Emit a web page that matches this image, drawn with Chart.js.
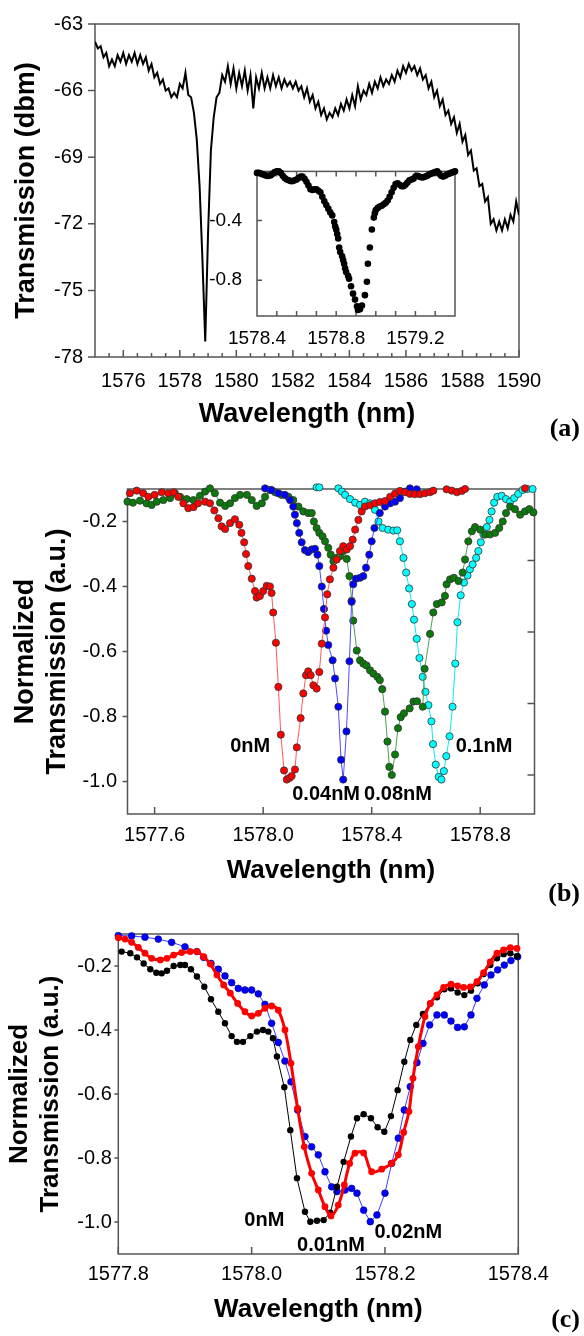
<!DOCTYPE html>
<html>
<head>
<meta charset="utf-8">
<title>Transmission spectra</title>
<script src="https://cdn.jsdelivr.net/npm/chart.js@4.4.1/dist/chart.umd.min.js"></script>
<style>
  html, body { margin: 0; padding: 0; background: #fff; }
  body { position: relative; width: 584px; height: 1336px; overflow: hidden; }
  canvas { position: absolute; }
  .tag { position: absolute; right: 4px; font: bold 26px 'Liberation Serif', 'Times New Roman', serif; line-height: 30px; color: #000; }
</style>
</head>
<body>
<canvas id="chartA" width="584" height="440" style="left:0;top:0"></canvas>
<canvas id="chartInset" width="280" height="215" style="left:190px;top:145px"></canvas>
<canvas id="chartB" width="584" height="470" style="left:0;top:440px"></canvas>
<canvas id="chartC" width="584" height="426" style="left:0;top:910px"></canvas>
<div class="tag" style="top:413px">(a)</div>
<div class="tag" style="top:878px">(b)</div>
<div class="tag" style="top:1304px">(c)</div>
<script>
// ---- panel (a): full spectrum ----
const aWl = [
  1575.0,1575.1,1575.2,1575.3,1575.4,1575.5,1575.6,1575.7,1575.8,1575.9,
  1576.0,1576.1,1576.2,1576.3,1576.4,1576.5,1576.6,1576.7,1576.8,1576.9,
  1577.0,1577.1,1577.2,1577.3,1577.4,1577.5,1577.6,1577.7,1577.8,1577.9,
  1578.0,1578.1,1578.2,1578.3,1578.4,1578.5,1578.6,1578.7,1578.8,1578.9,
  1579.0,1579.1,1579.2,1579.3,1579.4,1579.5,1579.6,1579.7,1579.8,1579.9,
  1580.0,1580.1,1580.2,1580.3,1580.4,1580.5,1580.6,1580.7,1580.8,1580.9,
  1581.0,1581.1,1581.2,1581.3,1581.4,1581.5,1581.6,1581.7,1581.8,1581.9,
  1582.0,1582.1,1582.2,1582.3,1582.4,1582.5,1582.6,1582.7,1582.8,1582.9,
  1583.0,1583.1,1583.2,1583.3,1583.4,1583.5,1583.6,1583.7,1583.8,1583.9,
  1584.0,1584.1,1584.2,1584.3,1584.4,1584.5,1584.6,1584.7,1584.8,1584.9,
  1585.0,1585.1,1585.2,1585.3,1585.4,1585.5,1585.6,1585.7,1585.8,1585.9,
  1586.0,1586.1,1586.2,1586.3,1586.4,1586.5,1586.6,1586.7,1586.8,1586.9,
  1587.0,1587.1,1587.2,1587.3,1587.4,1587.5,1587.6,1587.7,1587.8,1587.9,
  1588.0,1588.1,1588.2,1588.3,1588.4,1588.5,1588.6,1588.7,1588.8,1588.9,
  1589.0,1589.1,1589.2,1589.3,1589.4,1589.5,1589.6,1589.7,1589.8,1589.9,
  1590.0
];
const aT = [
  -63.8,-64.1,-64.0,-64.5,-64.3,-64.9,-64.6,-64.9,-64.4,-64.7,
  -64.3,-64.8,-64.4,-64.7,-64.3,-64.8,-64.4,-64.8,-64.5,-65.1,
  -64.8,-65.4,-65.2,-65.7,-65.5,-66.0,-65.9,-66.3,-66.1,-66.3,
  -65.7,-65.9,-65.2,-66.2,-66.3,-67.0,-68.2,-70.3,-73.6,-77.3,
  -72.4,-68.7,-67.2,-66.3,-66.1,-65.3,-65.6,-64.9,-65.7,-65.0,
  -65.9,-65.2,-65.8,-65.1,-66.0,-65.3,-66.8,-65.4,-65.9,-65.2,
  -65.9,-65.4,-65.9,-65.3,-65.8,-65.4,-65.9,-65.5,-65.8,-65.6,
  -65.9,-65.6,-66.0,-65.8,-66.3,-65.9,-66.5,-66.2,-66.8,-66.5,
  -67.1,-66.8,-67.3,-67.0,-67.2,-66.8,-67.1,-66.6,-66.9,-66.4,
  -66.8,-66.2,-66.7,-65.8,-66.4,-66.0,-66.2,-65.7,-66.1,-65.6,
  -65.9,-65.4,-65.8,-65.5,-65.7,-65.3,-65.6,-65.1,-65.4,-64.9,
  -65.2,-64.8,-65.1,-64.9,-65.3,-65.0,-65.5,-65.3,-65.9,-65.6,
  -66.3,-66.0,-66.7,-66.4,-67.1,-66.9,-67.5,-67.2,-67.9,-67.5,
  -68.3,-68.0,-68.9,-68.7,-69.6,-69.5,-70.3,-70.2,-71.0,-70.8,
  -72.0,-71.8,-72.3,-71.9,-72.3,-71.8,-72.2,-71.6,-71.9,-71.0,
  -71.6
];
const aTickX = [1576, 1578, 1580, 1582, 1584, 1586, 1588, 1590];
const aMinorX = [1575.5,1576,1576.5,1577,1577.5,1578,1578.5,1579,1579.5,1580,1580.5,1581,1581.5,1582,
  1582.5,1583,1583.5,1584,1584.5,1585,1585.5,1586,1586.5,1587,1587.5,1588,1588.5,1589,1589.5];
const aTickY = [-78, -75, -72, -69, -66, -63];

// ---- inset of (a) ----
const insetWl = [
  1578.40,1578.41,1578.42,1578.43,1578.44,1578.45,1578.46,1578.47,1578.48,1578.49,
  1578.50,1578.51,1578.52,1578.53,1578.54,1578.55,1578.56,1578.57,1578.58,1578.59,
  1578.60,1578.61,1578.62,1578.63,1578.64,1578.65,1578.66,1578.67,1578.68,1578.69,
  1578.70,1578.71,1578.72,1578.73,1578.74,1578.75,1578.76,1578.77,1578.78,
  1578.79,1578.795,1578.80,1578.805,1578.81,1578.815,1578.82,1578.83,1578.835,1578.84,
  1578.845,1578.85,1578.86,1578.865,1578.875,1578.885,1578.895,1578.905,1578.91,1578.915,
  1578.92,1578.93,1578.945,1578.955,1578.96,1578.97,1578.98,1578.99,1578.995,1579.00,
  1579.01,1579.02,1579.03,1579.04,1579.05,1579.06,1579.07,1579.08,1579.09,1579.10,
  1579.11,1579.12,1579.13,1579.14,1579.15,1579.16,1579.17,1579.18,1579.19,1579.20,
  1579.21,1579.22,1579.23,1579.24,1579.25,1579.26,1579.27,1579.28,1579.29,1579.30,
  1579.31,1579.32,1579.33,1579.34,1579.35,1579.36,1579.37,1579.38,1579.39,1579.40
];
const insetT = [
  -0.08,-0.08,-0.085,-0.09,-0.095,-0.10,-0.10,-0.095,-0.085,-0.075,
  -0.07,-0.07,-0.08,-0.10,-0.115,-0.125,-0.13,-0.135,-0.135,-0.13,
  -0.125,-0.115,-0.105,-0.105,-0.12,-0.14,-0.165,-0.19,-0.195,-0.19,
  -0.19,-0.20,-0.21,-0.24,-0.27,-0.295,-0.32,-0.345,-0.365,
  -0.41,-0.44,-0.46,-0.49,-0.52,-0.58,-0.61,-0.64,-0.665,-0.69,
  -0.72,-0.745,-0.77,-0.79,-0.84,-0.89,-0.93,-0.975,-1.0,-0.99,
  -0.995,-0.97,-0.90,-0.81,-0.69,-0.58,-0.46,-0.38,-0.35,-0.33,
  -0.315,-0.305,-0.30,-0.29,-0.28,-0.265,-0.24,-0.21,-0.18,-0.155,
  -0.15,-0.16,-0.17,-0.17,-0.16,-0.145,-0.13,-0.125,-0.12,-0.105,
  -0.10,-0.105,-0.11,-0.11,-0.105,-0.10,-0.09,-0.085,-0.08,-0.075,
  -0.07,-0.085,-0.10,-0.105,-0.10,-0.09,-0.085,-0.08,-0.075,-0.07
];
const insetTickX = [1578.4, 1578.8, 1579.2];
const insetMinorX = [1578.5,1578.6,1578.7,1578.8,1578.9,1579.0,1579.1,1579.2,1579.3];
const insetTickY = [-0.8, -0.4];

// ---- panel (b): 0 / 0.04 / 0.08 / 0.1 nM ----
const bRedWl = [
  1577.509,1577.534,1577.558,1577.577,1577.600,1577.626,1577.650,1577.670,1577.687,1577.706,
  1577.724,1577.743,1577.760,1577.786,1577.804,1577.820,1577.835,1577.847,1577.860,1577.878,
  1577.896,1577.912,1577.920,1577.930,1577.937,1577.945,1577.958,1577.970,1577.976,1577.988,
  1578.000,1578.013,1578.025,1578.031,1578.037,1578.047,1578.056,1578.065,1578.077,1578.087,
  1578.097,1578.105,1578.117,1578.124,1578.138,1578.148,1578.158,1578.166,1578.175,1578.185,
  1578.197,1578.207,1578.216,1578.228,1578.236,1578.246,1578.259,1578.271,1578.283,1578.295,
  1578.308,1578.320,1578.330,1578.339,1578.351,1578.363,1578.375,1578.394,1578.412,1578.430,
  1578.449,1578.468,1578.486,1578.504,1578.523,1578.541,1578.559,1578.578,1578.596,1578.615,
  1578.627,1578.650,1578.676,1578.695,1578.714,1578.732,1578.744,1578.850,1578.965
];
const bRedT = [
  -0.113,-0.105,-0.113,-0.124,-0.118,-0.110,-0.113,-0.110,-0.124,-0.144,
  -0.159,-0.156,-0.144,-0.139,-0.144,-0.166,-0.190,-0.215,-0.223,-0.205,
  -0.193,-0.210,-0.235,-0.264,-0.300,-0.337,-0.376,-0.414,-0.434,-0.429,
  -0.414,-0.398,-0.400,-0.420,-0.480,-0.573,-0.709,-0.856,-0.966,-0.994,
  -0.989,-0.983,-0.963,-0.895,-0.805,-0.729,-0.673,-0.661,-0.673,-0.704,
  -0.714,-0.663,-0.576,-0.495,-0.424,-0.378,-0.342,-0.317,-0.291,-0.276,
  -0.286,-0.276,-0.256,-0.225,-0.195,-0.169,-0.154,-0.150,-0.144,-0.140,
  -0.137,-0.124,-0.114,-0.106,-0.110,-0.115,-0.116,-0.116,-0.113,-0.110,
  -0.105,null,-0.101,-0.105,-0.110,-0.106,-0.100,null,-0.098
];
const bBlueWl = [
  1578.007,1578.031,1578.056,1578.080,1578.099,1578.111,1578.117,1578.124,1578.133,1578.142,
  1578.154,1578.166,1578.179,1578.191,1578.200,1578.207,1578.216,1578.224,1578.232,1578.240,
  1578.256,1578.265,1578.277,1578.287,1578.295,1578.307,1578.318,1578.326,1578.332,1578.342,
  1578.357,1578.369,1578.379,1578.391,1578.400,1578.410,1578.430,1578.449,1578.468,1578.486,
  1578.504,1578.523,1578.541,1578.566
];
const bBlueT = [
  -0.098,-0.103,-0.113,-0.118,-0.134,-0.154,-0.179,-0.205,-0.235,-0.264,
  -0.288,-0.294,-0.286,-0.284,-0.302,-0.337,-0.400,-0.469,-0.536,-0.580,
  -0.627,-0.683,-0.770,-0.933,-0.994,-0.846,-0.630,-0.447,-0.393,-0.376,
  -0.373,-0.368,-0.342,-0.302,-0.261,-0.220,-0.174,-0.154,-0.144,-0.139,
  -0.128,-0.108,-0.098,-0.101
];
const bGreenWl = [
  1577.500,1577.520,1577.546,1577.570,1577.589,1577.608,1577.632,1577.657,1577.675,1577.694,
  1577.718,1577.743,1577.767,1577.786,1577.804,1577.822,1577.841,1577.860,1577.878,1577.896,
  1577.915,1577.940,1577.958,1577.976,1577.995,1578.007,1578.025,1578.044,1578.068,1578.093,
  1578.111,1578.130,1578.148,1578.166,1578.179,1578.187,1578.197,1578.207,1578.219,1578.228,
  1578.240,1578.249,1578.259,1578.271,1578.283,1578.295,1578.308,1578.318,1578.326,1578.332,
  1578.345,1578.357,1578.369,1578.381,1578.394,1578.406,1578.421,1578.430,1578.439,1578.449,
  1578.458,1578.465,1578.474,1578.486,1578.497,1578.507,1578.519,1578.540,1578.554,1578.567,
  1578.588,1578.595,1578.615,1578.627,1578.640,1578.658,1578.670,1578.676,1578.689,1578.703,
  1578.720,1578.735,1578.744,1578.756,1578.769,1578.781,1578.800,1578.818,1578.836,1578.855,
  1578.870,1578.883,1578.895,1578.910,1578.928,1578.947,1578.965,1578.981,1578.996
];
const bGreenT = [
  -0.139,-0.142,-0.136,-0.144,-0.149,-0.139,-0.134,-0.128,-0.113,-0.124,
  -0.131,-0.134,-0.121,-0.108,-0.098,-0.113,-0.142,-0.152,-0.144,-0.128,
  -0.118,-0.118,-0.134,-0.152,-0.144,-0.124,-0.103,-0.110,-0.118,-0.124,
  -0.134,-0.154,-0.169,-0.174,-0.174,-0.200,-0.220,-0.235,-0.246,-0.261,
  -0.281,-0.302,-0.322,-0.312,-0.307,-0.291,-0.315,-0.368,-0.444,-0.505,
  -0.597,-0.627,-0.637,-0.643,-0.658,-0.668,-0.678,-0.688,-0.716,-0.785,
  -0.877,-0.955,-0.980,-0.917,-0.836,-0.802,-0.790,-0.775,-0.754,-0.753,
  -0.770,-0.653,-0.546,-0.480,-0.454,-0.449,-0.429,-0.393,-0.378,-0.373,
  -0.383,-0.357,-0.317,-0.261,-0.230,-0.217,-0.225,-0.240,-0.240,-0.235,
  -0.220,-0.200,-0.174,-0.154,-0.162,-0.179,-0.169,-0.162,-0.172
];
const bCyanWl = [
  1578.197,1578.207,1578.240,1578.277,1578.290,1578.302,1578.320,1578.339,1578.357,1578.375,
  1578.394,1578.412,1578.425,1578.440,1578.461,1578.480,1578.494,1578.504,1578.517,1578.527,
  1578.538,1578.548,1578.556,1578.566,1578.576,1578.588,1578.598,1578.609,1578.620,1578.626,
  1578.636,1578.647,1578.657,1578.666,1578.675,1578.687,1578.698,1578.708,1578.716,1578.728,
  1578.740,1578.753,1578.762,1578.772,1578.785,1578.793,1578.802,1578.812,1578.824,1578.834,
  1578.842,1578.851,1578.863,1578.879,1578.895,1578.910,1578.925,1578.940,1578.956,1578.974,
  1578.993
];
const bCyanT = [
  -0.095,-0.095,null,-0.098,-0.108,-0.118,-0.131,-0.142,-0.149,-0.139,
  -0.144,-0.164,-0.200,-0.220,-0.225,-0.228,-0.227,-0.261,-0.312,-0.357,
  -0.406,-0.454,-0.502,-0.561,-0.620,-0.678,-0.724,-0.765,-0.815,-0.885,
  -0.948,-0.986,-0.994,-0.968,-0.922,-0.861,-0.770,-0.637,-0.510,-0.427,
  -0.388,-0.366,-0.347,-0.332,-0.312,-0.291,-0.264,-0.240,-0.217,-0.195,
  -0.169,-0.142,-0.124,-0.121,-0.131,-0.139,-0.128,-0.115,-0.103,-0.100,
  -0.100
];
const bTickX = [1577.6, 1578.0, 1578.4, 1578.8];
const bTickY = [-1.0, -0.8, -0.6, -0.4, -0.2];
const bRightY = [-0.98, -0.76, -0.54, -0.32];
const bNotes = [
  { text: '0nM', x: 1577.952, y: -0.891 },
  { text: '0.04nM', x: 1578.232, y: -1.04 },
  { text: '0.08nM', x: 1578.497, y: -1.04 },
  { text: '0.1nM', x: 1578.814, y: -0.891 }
];

// ---- panel (c): 0 / 0.01 / 0.02 nM ----
const cBlackWl = [
  1577.805,1577.818,1577.828,1577.838,1577.848,1577.857,1577.865,1577.873,1577.883,1577.893,
  1577.900,1577.909,1577.918,1577.929,1577.939,1577.950,1577.960,1577.970,1577.978,1577.987,
  1577.998,1578.008,1578.017,1578.025,1578.032,1578.038,1578.049,1578.058,1578.068,1578.080,
  1578.088,1578.098,1578.108,1578.118,1578.128,1578.138,1578.149,1578.158,1578.168,1578.179,
  1578.189,1578.199,1578.209,1578.219,1578.229,1578.238,1578.247,1578.257,1578.268,1578.278,
  1578.289,1578.299,1578.309,1578.319,1578.329,1578.339,1578.348,1578.358,1578.368,1578.378,
  1578.388,1578.398
];
const cBlackT = [
  -0.155,-0.160,-0.173,-0.192,-0.210,-0.221,-0.223,-0.215,-0.200,-0.197,
  -0.197,-0.210,-0.233,-0.265,-0.304,-0.343,-0.379,-0.419,-0.437,-0.437,
  -0.419,-0.405,-0.400,-0.405,-0.426,-0.483,-0.579,-0.713,-0.863,-0.968,
  -0.999,-0.996,-0.994,-0.971,-0.890,-0.812,-0.733,-0.676,-0.663,-0.676,
  -0.704,-0.718,-0.669,-0.588,-0.499,-0.431,-0.384,-0.350,-0.317,-0.298,
  -0.273,-0.270,-0.283,-0.291,-0.277,-0.254,-0.225,-0.197,-0.176,-0.163,
  -0.160,-0.169
];
const cRedWl = [
  1577.800,1577.810,1577.820,1577.830,1577.840,1577.850,1577.863,1577.873,1577.883,1577.895,
  1577.908,1577.918,1577.928,1577.938,1577.948,1577.958,1577.968,1577.979,1577.990,1578.000,
  1578.010,1578.020,1578.030,1578.040,1578.050,1578.059,1578.069,1578.079,1578.090,1578.100,
  1578.110,1578.119,1578.130,1578.139,1578.147,1578.155,1578.168,1578.180,1578.195,1578.210,
  1578.220,1578.228,1578.236,1578.242,1578.250,1578.260,1578.268,1578.278,1578.288,1578.299,
  1578.309,1578.318,1578.328,1578.338,1578.348,1578.358,1578.368,1578.378,1578.388,1578.398
];
const cRedT = [
  -0.112,-0.116,-0.126,-0.142,-0.160,-0.176,-0.181,-0.176,-0.166,-0.158,
  -0.155,-0.155,-0.171,-0.194,-0.228,-0.259,-0.285,-0.317,-0.343,-0.356,
  -0.348,-0.332,-0.325,-0.338,-0.400,-0.504,-0.645,-0.765,-0.848,-0.900,
  -0.952,-0.981,-0.947,-0.884,-0.817,-0.785,-0.784,-0.843,-0.835,-0.817,
  -0.790,-0.720,-0.655,-0.551,-0.452,-0.358,-0.317,-0.290,-0.267,-0.257,
  -0.262,-0.267,-0.265,-0.249,-0.221,-0.187,-0.160,-0.150,-0.143,-0.145
];
const cBlueWl = [
  1577.800,1577.820,1577.840,1577.860,1577.880,1577.900,1577.918,1577.928,1577.939,1577.950,
  1577.960,1577.970,1577.980,1577.990,1578.000,1578.010,1578.020,1578.030,1578.040,1578.050,
  1578.059,1578.069,1578.080,1578.090,1578.100,1578.110,1578.120,1578.128,1578.140,1578.150,
  1578.158,1578.168,1578.178,1578.188,1578.200,1578.210,1578.220,1578.229,1578.238,1578.248,
  1578.257,1578.267,1578.278,1578.289,1578.299,1578.309,1578.319,1578.329,1578.338,1578.349,
  1578.359,1578.369,1578.379,1578.389,1578.399
];
const cBlueT = [
  -0.105,-0.106,-0.110,-0.116,-0.126,-0.140,-0.155,-0.173,-0.192,-0.210,
  -0.231,-0.252,-0.270,-0.275,-0.275,-0.287,-0.320,-0.379,-0.439,-0.497,
  -0.562,-0.650,-0.733,-0.765,-0.790,-0.843,-0.890,-0.905,-0.900,-0.895,
  -0.910,-0.963,-0.999,-0.978,-0.910,-0.817,-0.738,-0.650,-0.577,-0.502,
  -0.442,-0.384,-0.353,-0.353,-0.372,-0.392,-0.390,-0.353,-0.301,-0.259,
  -0.228,-0.212,-0.197,-0.183,-0.171
];
const cTickX = [1577.8, 1578.0, 1578.2, 1578.4];
const cTickY = [-1.0, -0.8, -0.6, -0.4, -0.2];
const cNotes = [
  { text: '0nM', x: 1578.019, y: -0.994 },
  { text: '0.01nM', x: 1578.119, y: -1.072 },
  { text: '0.02nM', x: 1578.235, y: -1.034 }
];

// ---------------------------------------------------------------
Chart.defaults.font.family = "'Liberation Sans', Arial, sans-serif";
Chart.defaults.color = '#000';

const FRAME = '#555';
const pts = (xs, ys) => xs.map((x, i) => ({ x: x, y: ys[i] }));

// box round the plot area plus the little tick marks (in or out)
function framePlugin(marks) {
  return {
    id: 'frame',
    beforeDatasetsDraw(chart) {
      const { ctx, chartArea: a } = chart;
      ctx.save();
      ctx.strokeStyle = FRAME;
      ctx.lineWidth = 1.5;
      ctx.strokeRect(a.left, a.top, a.right - a.left, a.bottom - a.top);
      ctx.beginPath();
      marks.forEach(m => {
        const sc = chart.scales[m.axis];
        const s = m.out ? -1 : 1;
        m.values.forEach(v => {
          const p = sc.getPixelForValue(v);
          if (m.side === 'bottom') { ctx.moveTo(p, a.bottom); ctx.lineTo(p, a.bottom - s * m.len); }
          if (m.side === 'top') { ctx.moveTo(p, a.top); ctx.lineTo(p, a.top + s * m.len); }
          if (m.side === 'left') { ctx.moveTo(a.left, p); ctx.lineTo(a.left + s * m.len, p); }
          if (m.side === 'right') { ctx.moveTo(a.right, p); ctx.lineTo(a.right - s * m.len, p); }
        });
      });
      ctx.stroke();
      ctx.restore();
    }
  };
}

// concentration labels, placed in data units
function notePlugin(notes) {
  return {
    id: 'notes',
    afterDatasetsDraw(chart) {
      const { ctx, scales: { x, y } } = chart;
      ctx.save();
      ctx.font = "bold 20px 'Liberation Sans', Arial, sans-serif";
      ctx.fillStyle = '#000';
      ctx.textAlign = 'center';
      ctx.textBaseline = 'middle';
      notes.forEach(n => ctx.fillText(n.text, x.getPixelForValue(n.x), y.getPixelForValue(n.y)));
      ctx.restore();
    }
  };
}

function axis(o) {
  return {
    type: 'linear',
    min: o.min,
    max: o.max,
    grid: { display: false, drawTicks: false },
    border: { display: false },
    afterBuildTicks: s => { s.ticks = o.ticks.map(v => ({ value: v })); },
    afterFit: s => {
      if (o.width) s.width = o.width;
      if (o.height) s.height = o.height;
    },
    ticks: {
      autoSkip: false,
      maxRotation: 0,
      padding: o.pad,
      font: { size: o.size },
      callback: v => o.fmt(v)
    },
    title: o.title ? {
      display: true,
      text: o.title,
      font: { size: o.tsize, weight: 'bold', lineHeight: o.tlh || 1.2 },
      padding: { top: o.tpad, bottom: o.tpad }
    } : { display: false }
  };
}

const base = (padding) => ({
  responsive: false,
  animation: false,
  events: [],
  layout: { padding: padding },
  plugins: { legend: { display: false }, tooltip: { enabled: false } }
});

const int = v => String(v);
const one = v => v.toFixed(1);

// (a) main spectrum
new Chart(document.getElementById('chartA'), {
  type: 'line',
  data: {
    datasets: [{
      data: pts(aWl, aT),
      borderColor: '#000',
      borderWidth: 2,
      pointRadius: 0,
      tension: 0
    }]
  },
  options: Object.assign(base({ left: 0, top: 18, right: 65, bottom: 0 }), {
    scales: {
      x: axis({ min: 1575, max: 1590, ticks: aTickX, height: 83, pad: 12, size: 20, fmt: int,
                title: 'Wavelength (nm)', tsize: 27, tpad: 9 }),
      y: axis({ min: -78, max: -63, ticks: aTickY, width: 95, pad: 12, size: 20, fmt: int,
                title: 'Transmission (dbm)', tsize: 27, tpad: 10.8 })
    }
  }),
  plugins: [framePlugin([
    { axis: 'x', side: 'bottom', values: aMinorX, len: 4 },
    { axis: 'x', side: 'bottom', values: aTickX, len: 7 },
    { axis: 'y', side: 'left', values: aTickY, len: 7, out: true }
  ])]
});

// (a) inset: zoom on the resonance dip
new Chart(document.getElementById('chartInset'), {
  type: 'line',
  data: {
    datasets: [{
      data: pts(insetWl, insetT),
      showLine: false,
      pointRadius: 3.3,
      pointBackgroundColor: '#000',
      pointBorderWidth: 0,
      clip: 5
    }]
  },
  options: Object.assign(base({ left: 0, top: 15, right: 15, bottom: 0 }), {
    scales: {
      x: axis({ min: 1578.4, max: 1579.4, ticks: insetTickX, height: 44, pad: 11.6, size: 19, fmt: one }),
      y: axis({ min: -1.04, max: -0.07, ticks: insetTickY, width: 67, pad: 15, size: 19, fmt: one })
    }
  }),
  plugins: [framePlugin([
    { axis: 'x', side: 'bottom', values: insetMinorX, len: 5 },
    { axis: 'x', side: 'top', values: insetMinorX, len: 5 },
    { axis: 'y', side: 'left', values: insetTickY, len: 5 }
  ])]
});

// (b)
const bSeries = (wl, t, fill, line) => ({
  data: pts(wl, t),
  borderColor: line,
  borderWidth: 1,
  pointRadius: 3.6,
  pointBackgroundColor: fill,
  pointBorderColor: '#333',
  pointBorderWidth: 0.8,
  spanGaps: false,
  clip: 6
});
new Chart(document.getElementById('chartB'), {
  type: 'line',
  data: {
    datasets: [
      bSeries(bRedWl, bRedT, '#ff0000', '#ff5a5a'),
      bSeries(bBlueWl, bBlueT, '#0000ff', '#4b4bff'),
      bSeries(bGreenWl, bGreenT, '#0a7a0a', '#4f9f4f'),
      bSeries(bCyanWl, bCyanT, '#00ffff', '#00f0f0')
    ]
  },
  options: Object.assign(base({ left: 0, top: 49, right: 49.5, bottom: 0 }), {
    scales: {
      x: axis({ min: 1577.5, max: 1579.0, ticks: bTickX, height: 96, pad: 9, size: 20, fmt: one,
                title: 'Wavelength (nm)', tsize: 26, tpad: 23.4 }),
      y: axis({ min: -1.1, max: -0.1, ticks: bTickY, width: 127.5, pad: 10.5, size: 20, fmt: one,
                title: ['Normalized', 'Transmission (a.u.)'], tsize: 27, tlh: 1.15, tpad: 10.5 })
    }
  }),
  plugins: [
    framePlugin([
      { axis: 'x', side: 'bottom', values: bTickX, len: 7 },
      { axis: 'y', side: 'left', values: bTickY, len: 5, out: true },
      { axis: 'y', side: 'right', values: bRightY, len: 7 }
    ]),
    notePlugin(bNotes)
  ]
});

// (c)
new Chart(document.getElementById('chartC'), {
  type: 'line',
  data: {
    datasets: [
      {
        data: pts(cRedWl, cRedT),
        borderColor: '#ff0000',
        borderWidth: 3,
        tension: 0.35,
        pointRadius: 3.4,
        pointBackgroundColor: '#ff0000',
        pointBorderWidth: 0,
        clip: 6
      },
      {
        data: pts(cBlackWl, cBlackT),
        borderColor: '#000',
        borderWidth: 1,
        pointRadius: 3.2,
        pointBackgroundColor: '#000',
        pointBorderWidth: 0,
        clip: 6
      },
      {
        data: pts(cBlueWl, cBlueT),
        borderColor: '#3c3cff',
        borderWidth: 1,
        pointRadius: 3.4,
        pointBackgroundColor: '#0000ff',
        pointBorderColor: '#000080',
        pointBorderWidth: 0.6,
        clip: 6
      }
    ]
  },
  options: Object.assign(base({ left: 0, top: 24, right: 65.7, bottom: 0 }), {
    scales: {
      x: axis({ min: 1577.8, max: 1578.4, ticks: cTickX, height: 82, pad: 8, size: 20, fmt: one,
                title: 'Wavelength (nm)', tsize: 26, tpad: 10.4 }),
      y: axis({ min: -1.1, max: -0.1, ticks: cTickY, width: 118.3, pad: 6.5, size: 20, fmt: one,
                title: ['Normalized', 'Transmission (a.u.)'], tsize: 26, tlh: 1.19, tpad: 4.5 })
    }
  }),
  plugins: [
    framePlugin([
      { axis: 'x', side: 'bottom', values: cTickX, len: 7 },
      { axis: 'y', side: 'left', values: cTickY, len: 4, out: true }
    ]),
    notePlugin(cNotes)
  ]
});
</script>
</body>
</html>
